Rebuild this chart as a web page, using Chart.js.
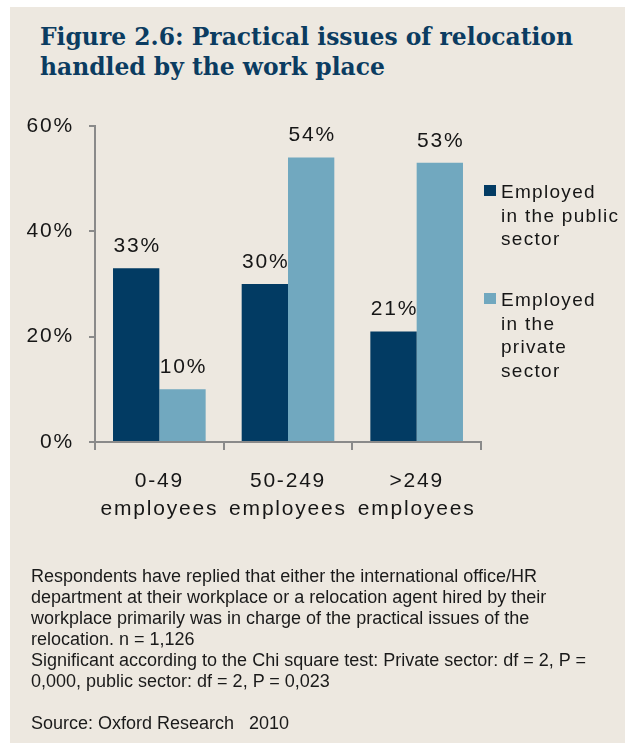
<!DOCTYPE html>
<html>
<head>
<meta charset="utf-8">
<script src="https://cdn.jsdelivr.net/npm/chart.js@4.4.1/dist/chart.umd.min.js"></script>
<style>
  html, body { margin: 0; padding: 0; background: #fff; }
  body { width: 625px; height: 743px; position: relative; overflow: hidden; }
  .panel { position: absolute; left: 10px; top: 7px; right: 0; bottom: 0; background: #ede8e0; }
  #chart { position: absolute; left: 0; top: 0; }
  .title {
    position: absolute; left: 40px; top: 22px;
    font-family: "DejaVu Serif", serif; font-weight: bold; font-size: 25px;
    line-height: 30px; color: #0b3c61; white-space: nowrap;
  }
  .title span { display: block; transform-origin: 0 0; }
  .notes {
    position: absolute; left: 31px; top: 566px;
    font-family: "Liberation Sans", Arial, sans-serif; font-size: 18px;
    line-height: 21px; color: #1a1a1a; white-space: nowrap;
  }
</style>
</head>
<body>
<div class="panel"></div>
<div class="title">
  <span id="t1">Figure 2.6: Practical issues of relocation</span>
  <span id="t2">handled by the work place</span>
</div>
<canvas id="chart" width="625" height="743"></canvas>
<div class="notes">
  Respondents have replied that either the international office/HR<br>
  department at their workplace or a relocation agent hired by their<br>
  workplace primarily was in charge of the practical issues of the<br>
  relocation. n = 1,126<br>
  Significant according to the Chi square test: Private sector: df = 2, P =<br>
  0,000, public sector: df = 2, P = 0,023<br>
  <br>
  Source: Oxford Research&nbsp;&nbsp; 2010
</div>
<script>
// Share of respondents whose workplace handled the practical issues, by company size
const categories = [['0-49', 'employees'], ['50-249', 'employees'], ['>249', 'employees']];
const publicSector = [33, 30, 21];
const privateSector = [10, 54, 53];
const yTicks = [0, 20, 40, 60];
const legendLines = [
  ['Employed', 'in the public', 'sector'],
  ['Employed', 'in the', 'private', 'sector'],
];

const DARK = '#023b63';
const LIGHT = '#71a8bf';
const AXIS = '#8a8a8a';
const INK = '#161616';
const SANS = '"Liberation Sans", Arial, sans-serif';

// squeeze the serif title so line one spans the same width as the footnote block
const t1 = document.getElementById('t1');
const t2 = document.getElementById('t2');
const sx = 533 / t1.getBoundingClientRect().width;
t1.style.transform = t2.style.transform = 'scaleX(' + sx + ')';

// ticks and value labels use a slightly tracked-out font
const spacing = {
  id: 'spacing',
  beforeLayout(chart) { chart.ctx.letterSpacing = '1.8px'; },
  beforeDraw(chart) { chart.ctx.letterSpacing = '1.8px'; },
};

const valueLabels = {
  id: 'valueLabels',
  afterDatasetsDraw(chart) {
    const ctx = chart.ctx;
    ctx.save();
    ctx.letterSpacing = '1.8px';
    ctx.font = '21px ' + SANS;
    ctx.fillStyle = INK;
    ctx.textAlign = 'center';
    ctx.textBaseline = 'middle';
    chart.data.datasets.forEach((ds, i) => {
      chart.getDatasetMeta(i).data.forEach((bar, j) => {
        ctx.fillText(ds.data[j] + '%', bar.x + 1, bar.y - 22);
      });
    });
    ctx.restore();
  },
};

const sideLegend = {
  id: 'sideLegend',
  afterDraw(chart) {
    const ctx = chart.ctx;
    const x = chart.chartArea.right + 3;
    const tops = [185, 293];
    ctx.save();
    ctx.letterSpacing = '1.3px';
    ctx.font = '19px ' + SANS;
    ctx.textAlign = 'left';
    ctx.textBaseline = 'alphabetic';
    chart.data.datasets.forEach((ds, i) => {
      ctx.fillStyle = ds.backgroundColor;
      ctx.fillRect(x, tops[i], 12, 11);
      ctx.fillStyle = INK;
      legendLines[i].forEach((line, k) => {
        ctx.fillText(line, x + 17, tops[i] + 13 + k * 23.7);
      });
    });
    ctx.restore();
  },
};

new Chart(document.getElementById('chart'), {
  type: 'bar',
  data: {
    labels: categories,
    datasets: [
      { label: 'Employed in the public sector', data: publicSector, backgroundColor: DARK },
      { label: 'Employed in the private sector', data: privateSector, backgroundColor: LIGHT },
    ],
  },
  options: {
    responsive: false,
    animation: false,
    categoryPercentage: 0.72,
    barPercentage: 1,
    layout: { padding: { top: 126, right: 144, bottom: 0, left: 0 } },
    plugins: { legend: { display: false }, tooltip: { enabled: false } },
    scales: {
      x: {
        grid: { drawOnChartArea: false, tickLength: 8, color: AXIS, lineWidth: 2 },
        border: { color: AXIS, width: 2 },
        ticks: { color: INK, font: { family: SANS, size: 21, lineHeight: 1.3 }, padding: 18, maxRotation: 0 },
        afterFit(scale) { scale.height = 743 - 442; },
      },
      y: {
        min: 0,
        max: 60,
        afterBuildTicks(scale) { scale.ticks = yTicks.map(v => ({ value: v })); },
        grid: { drawOnChartArea: false, tickLength: 6, color: AXIS, lineWidth: 2 },
        border: { color: AXIS, width: 2 },
        ticks: { color: INK, font: { family: SANS, size: 21 }, padding: 15, callback: v => v + '%' },
        afterFit(scale) { scale.width = 95; },
      },
    },
  },
  plugins: [spacing, valueLabels, sideLegend],
});
</script>
</body>
</html>
